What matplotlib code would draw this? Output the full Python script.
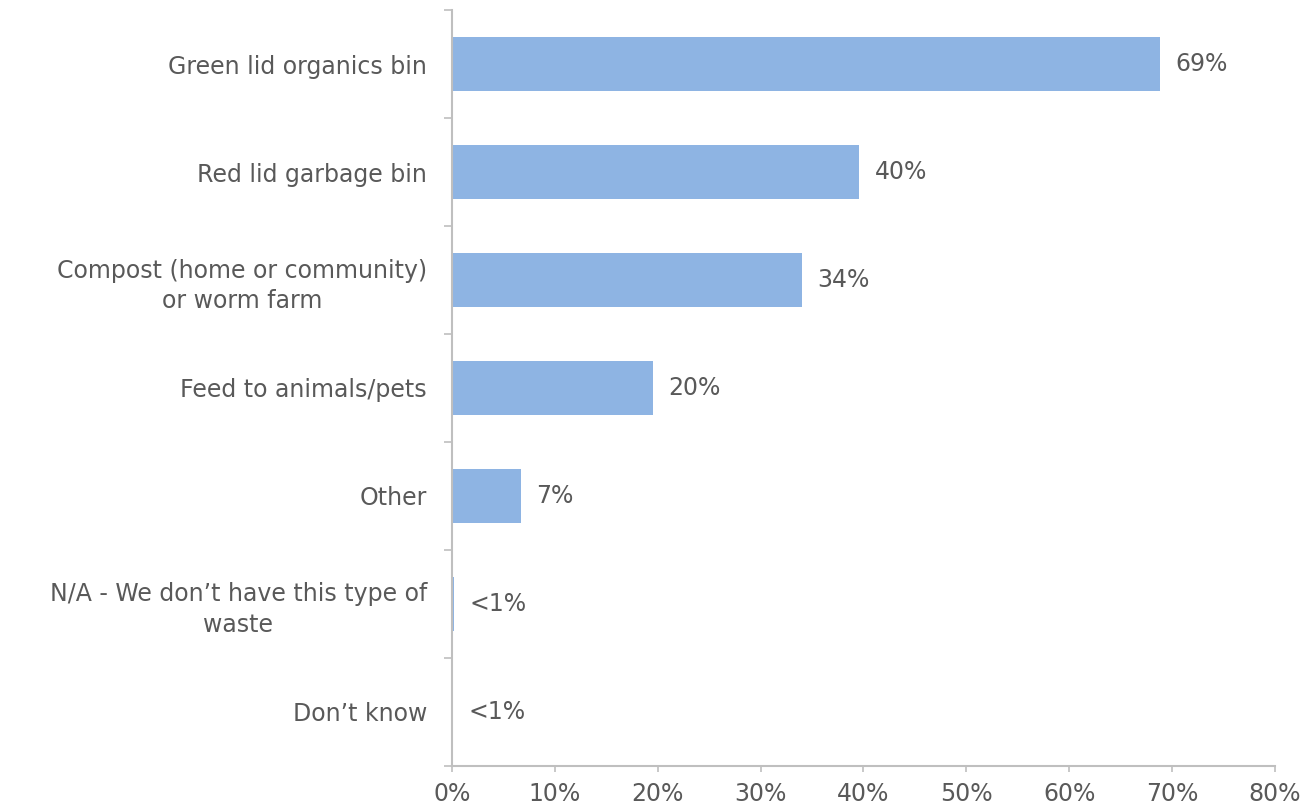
import numpy as np
from matplotlib import pyplot as plt
from matplotlib.ticker import FixedLocator, PercentFormatter

categories = [
    'Green lid organics bin',
    'Red lid garbage bin',
    'Compost (home or community)\nor worm farm',
    'Feed to animals/pets',
    'Other',
    'N/A - We don\u2019t have this type of\nwaste',
    'Don\u2019t know',
]
values = [68.8, 39.6, 34.0, 19.5, 6.7, 0.2, 0.1]
value_labels = ['69%', '40%', '34%', '20%', '7%', '<1%', '<1%']

plt.rcParams['font.family'] = ['DejaVu Sans']
text_col = '#595959'
axis_col = '#BFBFBF'
bar_col = '#8EB4E3'
fs = 17

fig = plt.figure(figsize=(13.01, 8.09), dpi=100)
ax = fig.add_axes([0.3474, 0.0532, 0.6326, 0.9344])

y = np.arange(len(categories))
ax.barh(y, values, height=0.5, color=bar_col)
for yi, v, lab in zip(y, values, value_labels):
    ax.text(v + 1.5, yi, lab, va='center', ha='left', fontsize=fs, color=text_col)

ax.set_ylim(len(categories) - 0.5, -0.5)
ax.set_xlim(0, 80)
ax.set_yticks(y)
ax.set_yticklabels(categories, multialignment='center', linespacing=1.35)
ax.yaxis.set_minor_locator(FixedLocator(np.arange(-0.5, len(categories), 1)))
ax.tick_params(axis='y', which='major', length=0, pad=18, labelsize=fs, labelcolor=text_col)
ax.tick_params(axis='y', which='minor', length=6, width=1.2, color=axis_col, direction='out')
ax.set_xticks(np.arange(0, 81, 10))
ax.xaxis.set_major_formatter(PercentFormatter(decimals=0))
ax.tick_params(axis='x', length=4.5, width=1.2, color=axis_col, labelsize=fs,
               labelcolor=text_col, pad=7)

for side in ['top', 'right']:
    ax.spines[side].set_visible(False)
for side in ['left', 'bottom']:
    ax.spines[side].set_color(axis_col)
    ax.spines[side].set_linewidth(1.5)

fig.savefig('out.png', dpi=100)
